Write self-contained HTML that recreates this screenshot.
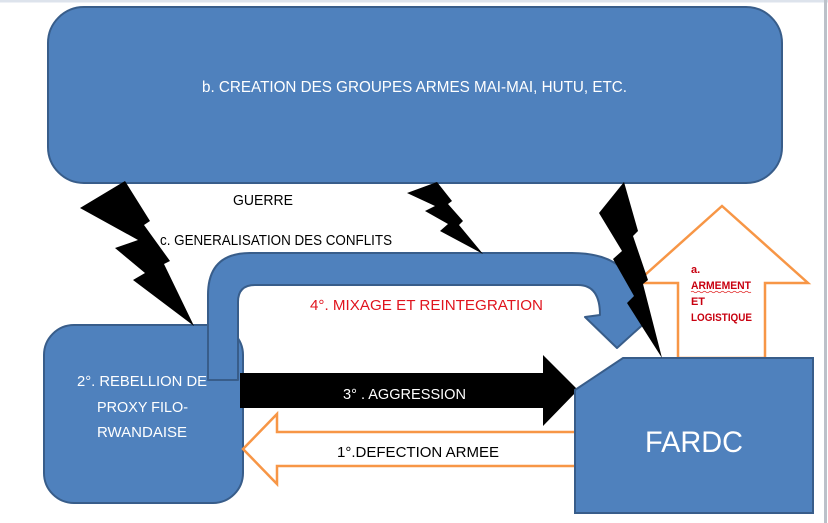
<!DOCTYPE html>
<html>
<head>
<meta charset="utf-8">
<style>
html,body{margin:0;padding:0;background:#fff;}
svg{display:block;}
text{font-family:"Liberation Sans",sans-serif;}
</style>
</head>
<body>
<svg width="828" height="523" viewBox="0 0 828 523" xmlns="http://www.w3.org/2000/svg">
  <rect x="0" y="0" width="828" height="523" fill="#ffffff"/>
  <!-- frame -->
  <rect x="0" y="0" width="828" height="2.5" fill="#dde3ec"/>
  <rect x="824" y="0" width="3" height="523" fill="#bcc1c9"/>

  <!-- top box -->
  <rect x="48" y="7" width="734" height="176" rx="36" ry="36" fill="#4f81bd" stroke="#385d8a" stroke-width="2"/>
  <text x="202" y="92" font-size="16" fill="#ffffff" textLength="425" lengthAdjust="spacingAndGlyphs">b. CREATION DES GROUPES ARMES MAI-MAI, HUTU, ETC.</text>

  <!-- labels -->
  <text x="233" y="205" font-size="14.5" fill="#000" textLength="60" lengthAdjust="spacingAndGlyphs">GUERRE</text>
  <text x="160" y="245" font-size="14.5" fill="#000" textLength="232" lengthAdjust="spacingAndGlyphs">c. GENERALISATION DES CONFLITS</text>

  <!-- left box -->
  <rect x="44" y="325" width="199" height="178" rx="30" ry="30" fill="#4f81bd" stroke="#385d8a" stroke-width="2"/>
  <text x="77" y="386" font-size="15" fill="#ffffff" textLength="130" lengthAdjust="spacingAndGlyphs">2°. REBELLION DE</text>
  <text x="97" y="412" font-size="15" fill="#ffffff" textLength="91" lengthAdjust="spacingAndGlyphs">PROXY FILO-</text>
  <text x="97" y="437" font-size="15" fill="#ffffff" textLength="90" lengthAdjust="spacingAndGlyphs">RWANDAISE</text>

  <!-- U-turn arrow -->
  <path d="M208,380 L208,295 Q208,253 250,253 L572,253 Q640,253 640,318 L648,320 L617,348 L585,317 L600,315 Q600,285 578,285 L255,285 Q238,285 238,302 L238,380 Z" fill="#4f81bd" stroke="#385d8a" stroke-width="2" stroke-linejoin="round"/>
  <text x="310" y="310" font-size="15" fill="#e0141e" textLength="233" lengthAdjust="spacingAndGlyphs">4°. MIXAGE  ET REINTEGRATION</text>

  <!-- black arrow -->
  <polygon points="240,373 543,373 543,355 578,390 543,426 543,408 240,408" fill="#000"/>
  <text x="343" y="399" font-size="15" fill="#ffffff" textLength="123" lengthAdjust="spacingAndGlyphs">3° . AGGRESSION</text>

  <!-- orange left arrow -->
  <polygon points="576,432 277,432 277,414 243,449 277,484 277,466 576,466" fill="#ffffff" stroke="#f79646" stroke-width="2.5" stroke-linejoin="miter"/>
  <text x="337" y="457" font-size="15" fill="#000" textLength="162" lengthAdjust="spacingAndGlyphs">1°.DEFECTION ARMEE</text>

  <!-- house / up arrow -->
  <polygon points="722,206 808,283 765,283 765,358 678,358 678,283 636,283" fill="#ffffff" stroke="#f79646" stroke-width="2.5"/>
  <text x="691" y="273" font-size="11" font-weight="bold" fill="#c8000f">a.</text>
  <text x="691" y="289" font-size="11" font-weight="bold" fill="#c8000f" textLength="60" lengthAdjust="spacingAndGlyphs">ARMEMENT</text>
  <path d="M691,292 q1.5,-1.5 3,0 t3,0 t3,0 t3,0 t3,0 t3,0 t3,0 t3,0 t3,0 t3,0 t3,0 t3,0 t3,0 t3,0 t3,0 t3,0 t3,0 t3,0 t3,0 t3,0" fill="none" stroke="#e02020" stroke-width="0.8"/>
  <text x="691" y="305" font-size="11" font-weight="bold" fill="#c8000f" textLength="14" lengthAdjust="spacingAndGlyphs">ET</text>
  <text x="691" y="321" font-size="11" font-weight="bold" fill="#c8000f" textLength="61" lengthAdjust="spacingAndGlyphs">LOGISTIQUE</text>

  <!-- FARDC -->
  <polygon points="575,390 623,358 813,358 813,513 575,513" fill="#4f81bd" stroke="#385d8a" stroke-width="2"/>
  <text x="645" y="452" font-size="30" fill="#ffffff" textLength="98" lengthAdjust="spacingAndGlyphs">FARDC</text>

  <!-- lightning bolts -->
  <polygon points="125,181 150,221 144,225 170,261 164,264 194,326 133,280 145,273 115,248 138,240 80,208" fill="#000"/>
  <polygon points="437,182 452,201 448,204 463,221 459,225 483,254 440,231 448,224 425,211 435,206 407,193" fill="#000"/>
  <polygon points="624,182 638,231 633,236 648,280 643,284 662,358 627,303 634,296 613,259 622,251 599,213" fill="#000"/>
</svg>
</body>
</html>
